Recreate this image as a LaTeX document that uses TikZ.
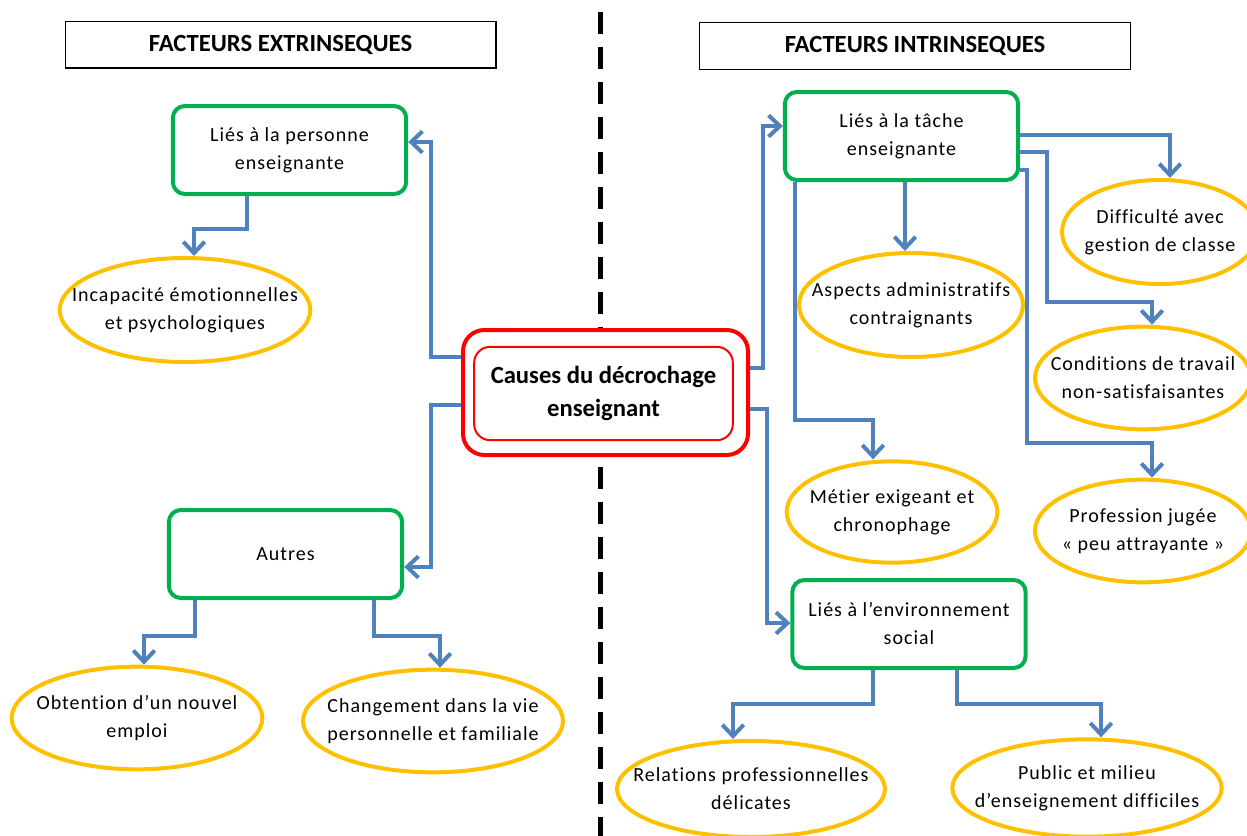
\documentclass[tikz,border=0pt]{standalone}
\usepackage{fontspec}
\setmainfont{Carlito}
\newfontfamily\spacedfont{Carlito}[LetterSpace=5, Ligatures=NoCommon]
\usepackage{tikz}
\usetikzlibrary{shapes}
\usetikzlibrary{arrows.meta}
\definecolor{grn}{RGB}{0,176,80}
\definecolor{ylw}{RGB}{255,192,0}
\definecolor{blu}{RGB}{79,129,189}
\definecolor{rd}{RGB}{255,0,0}

\begin{document}
\begin{tikzpicture}[x=0.75pt,y=0.75pt,yscale=-1,xscale=1,
  txt/.style={font=\spacedfont\fontsize{15}{21}\selectfont, align=center, inner sep=0.75pt},
  titlebox/.style={draw, line width=1pt, minimum width=323pt, minimum height=35pt, font=\fontsize{18.5}{22}\selectfont\bfseries},
  greenbox/.style={txt, draw=grn, fill=white, line width=3pt, rounded corners=9pt, minimum width=175pt, minimum height=66pt},
  oval/.style={draw=ylw, ellipse, line width=3pt, inner sep=0pt},
  conn/.style={blu, line width=3pt, -{Straight Barb[length=8.5pt,width=16pt]}}]
\useasboundingbox (0,0) rectangle (1247,836);
%Dashed Line
\draw [line width=3.75pt, dash pattern=on 16.5pt off 9.75pt]  (600,12) -- (600,836) ;
% Titles
\draw (280.5,44.5) node [titlebox] (ext) {FACTEURS EXTRINSEQUES};
\draw (915,46) node [titlebox] (int) {FACTEURS INTRINSEQUES};
% Center
\draw (605.5,392.5) node [draw=rd, fill=white, line width=3pt, rounded corners=16pt, minimum width=213.75pt, minimum height=93.75pt] (cause) {};
\draw (603.5,393.5) node [draw=rd, line width=1.5pt, rounded corners=12pt, minimum width=194pt, minimum height=70pt, align=center, font=\fontsize{18.5}{25}\selectfont\bfseries] (causetxt) {Causes du décrochage\\enseignant};
% Green boxes
\draw (289.5,150) node [greenbox] (pers) {Liés à la personne\\enseignante};
\draw (285.5,554) node [greenbox] (autres) {Autres};
\draw (901.5,136) node [greenbox] (tache) {Liés à la tâche\\enseignante};
\draw (909,624) node [greenbox] (env) {Liés à l’environnement\\social};
% Ellipses
\draw (185,310) node [oval, minimum width=188pt, minimum height=78pt, label={[txt]center:{Incapacité émotionnelles\\et psychologiques}}] (incap) {};
\draw (137,718) node [oval, minimum width=188pt, minimum height=77pt, label={[txt]center:{Obtention d’un nouvel\\emploi}}] (obten) {};
\draw (433,721) node [oval, minimum width=195pt, minimum height=77pt, label={[txt]center:{Changement dans la vie\\personnelle et familiale}}] (chang) {};
\draw (911,305) node [oval, minimum width=168pt, minimum height=78pt, label={[txt]center:{Aspects administratifs\\contraignants}}] (admin) {};
\draw (1160,232) node [oval, minimum width=147pt, minimum height=78pt, label={[txt]center:{Difficulté avec\\gestion de classe}}] (diff) {};
\draw (1143,378) node [oval, minimum width=162pt, minimum height=77pt, label={[txt]center:{Conditions de travail\\non-satisfaisantes}}] (cond) {};
\draw (1143,531) node [oval, minimum width=162pt, minimum height=77pt, label={[txt]center:{Profession jugée\\« peu attrayante »}}] (prof) {};
\draw (892,512) node [oval, minimum width=158pt, minimum height=76pt, label={[txt]center:{Métier exigeant et\\chronophage}}] (metier) {};
\draw (751,789) node [oval, minimum width=201pt, minimum height=72pt, label={[txt]center:{Relations professionnelles\\délicates}}] (relat) {};
\draw (1087,788) node [oval, minimum width=202pt, minimum height=73pt, label={[txt]center:{Public et milieu\\d’enseignement difficiles}}] (public) {};
% Connectors
\draw [conn] (cause.west |- 0,357) -- ++(-30,0) |- (pers.east |- 0,142);
\draw [conn] (cause.west |- 0,405) -- ++(-30,0) |- (autres.east |- 0,567);
\draw [conn] (cause.east |- 0,368) -- ++(13,0) |- (tache.west |- 0,126);
\draw [conn] (cause.east |- 0,409) -- ++(17,0) |- (env.west |- 0,623);
\draw [conn] (pers.south -| 247,0) -- ++(0,33) -| (incap.north -| 194,0);
\draw [conn] (autres.south -| 195,0) -- ++(0,36) -| (obten.north -| 144,0);
\draw [conn] (autres.south -| 374,0) -- ++(0,36) -| (chang.north -| 440,0);
\draw [conn] (tache.south -| 905,0) -- (admin.north -| 905,0);
\draw [conn] (tache.east |- 0,135) -| (diff.north -| 1170,0);
\draw [conn] (tache.east |- 0,152) -| (1047,302) -| (cond.north -| 1152,0);
\draw [conn] (tache.east |- 0,170) -| (1027,443) -| (prof.north -| 1152,0);
\draw [conn] (tache.south -| 795,0) -- (795,420) -| (metier.north -| 873,0);
\draw [conn] (env.south -| 873,0) -- ++(0,34) -| (relat.north -| 733,0);
\draw [conn] (env.south -| 957,0) -- ++(0,34) -| (public.north -| 1101,0);
\end{tikzpicture}
\end{document}
